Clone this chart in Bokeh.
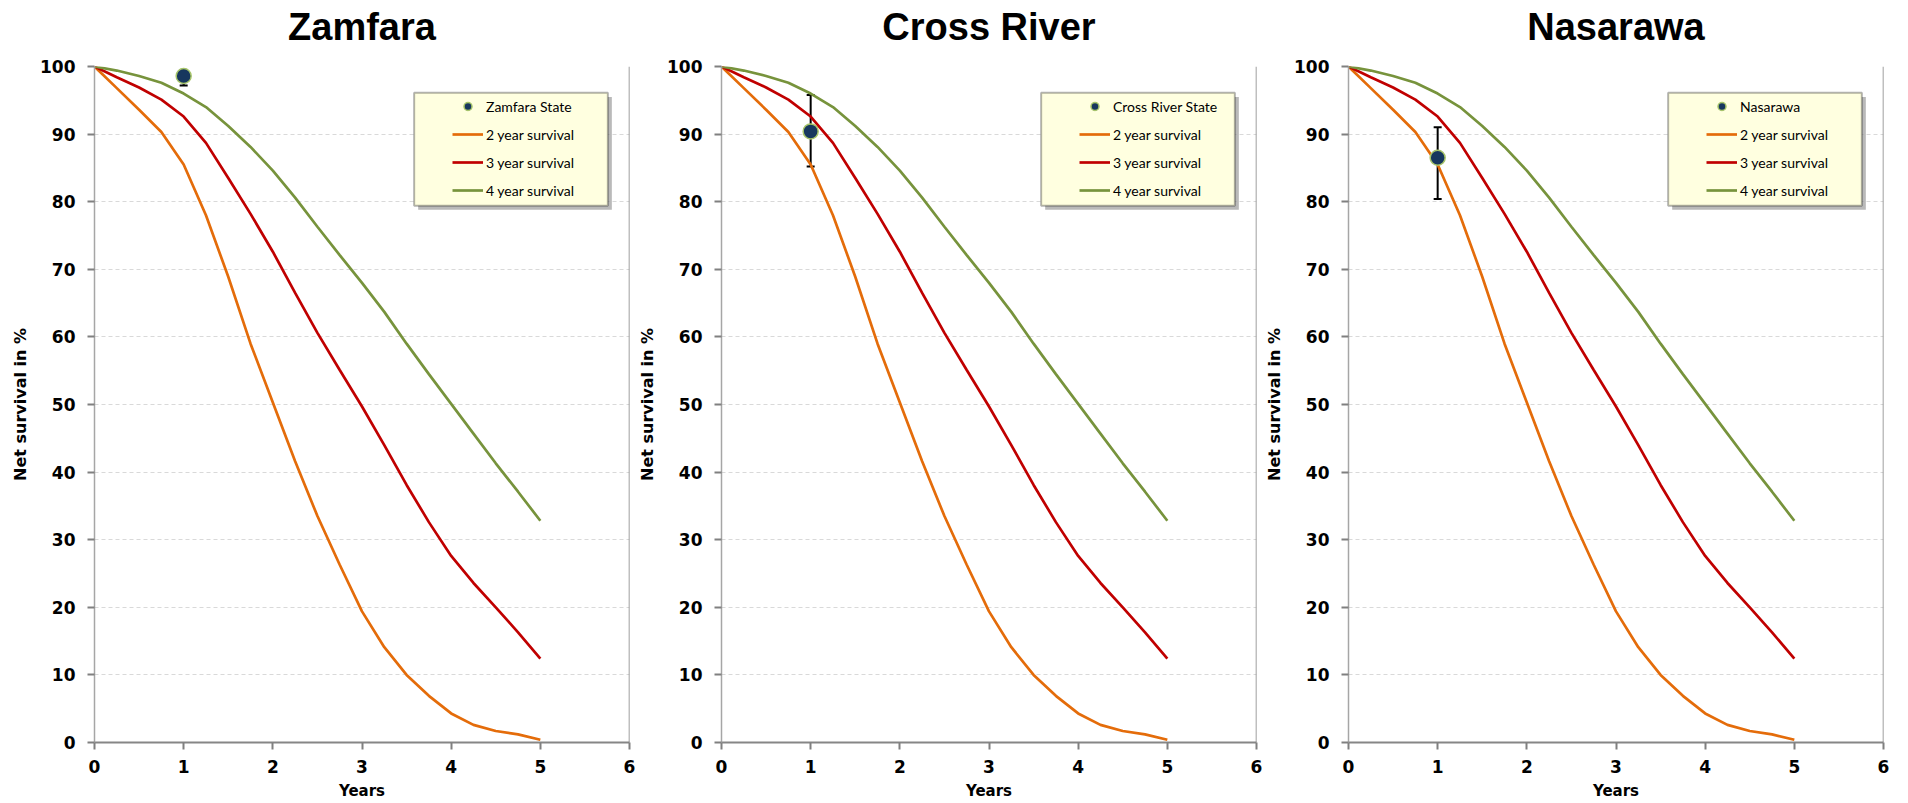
from bokeh.plotting import figure
from bokeh.layouts import row, Spacer
from bokeh.models import (Legend, LegendItem, Whisker, TeeHead, ColumnDataSource,
                          BoxAnnotation, Span, FixedTicker, Range1d, Title)
from bokeh.embed import file_html
from bokeh.resources import INLINE

# ---------------- data ----------------
years = [0, 0.25, 0.5, 0.75, 1.0, 1.25, 1.5, 1.75, 2.0, 2.25, 2.5,
         2.75, 3.0, 3.25, 3.5, 3.75, 4.0, 4.25, 4.5, 4.75, 5.0]
surv_2yr = [100, 96.8, 93.6, 90.3, 85.5, 78.0, 68.9, 59.0, 50.3, 41.6, 33.5,
            26.3, 19.4, 14.1, 10.0, 6.9, 4.3, 2.6, 1.7, 1.2, 0.4]
surv_3yr = [100, 98.4, 96.9, 95.1, 92.6, 88.7, 83.5, 78.2, 72.6, 66.5, 60.6,
            55.1, 49.7, 44.0, 38.1, 32.6, 27.6, 23.6, 20.0, 16.3, 12.4]
surv_4yr = [100, 99.4, 98.6, 97.6, 96.0, 94.0, 91.2, 88.1, 84.6, 80.6, 76.3,
            72.1, 68.0, 63.7, 59.0, 54.5, 50.1, 45.7, 41.3, 37.1, 32.8]

states = ["Zamfara", "Cross River", "Nasarawa"]
point_labels = ["Zamfara State", "Cross River State", "Nasarawa"]
obs_year = [1, 1, 1]
obs_value = [98.6, 90.4, 86.5]
obs_lower = [97.2, 85.2, 80.4]
obs_upper = [99.5, 95.8, 91.0]

curve_labels = ["2 year survival", "3 year survival", "4 year survival"]
x_ticks = [0, 1, 2, 3, 4, 5, 6]
y_ticks = [0, 10, 20, 30, 40, 50, 60, 70, 80, 90, 100]

# ---------------- style ----------------
C_ORANGE = "#E46C0A"
C_RED = "#C00000"
C_GREEN = "#77933C"
C_NAVY = "#17375E"
C_RING = "#A6C46A"
LEG_BOX = dict(left=3.585, right=5.757, bottom=79.4, top=96.1)

figs = []
for i, st in enumerate(states):
    p = figure(width=627, height=803, x_range=Range1d(0, 6), y_range=Range1d(0, 100),
               output_backend="svg", toolbar_location=None, title=st,
               min_border_left=83, min_border_right=6, min_border_top=66,
               min_border_bottom=61)
    p.outline_line_color = None
    p.background_fill_color = "white"
    p.border_fill_color = "white"

    p.title.text_font = "Liberation Sans"
    p.title.text_font_size = "38px"
    p.title.text_font_style = "bold"
    p.title.text_color = "black"
    p.title.align = "center"
    p.title.standoff = 0
    # empty spacer panel between the title and the plot frame
    p.add_layout(Title(text=" ", text_font_size="1px", standoff=16), "above")

    p.xaxis.ticker = FixedTicker(ticks=x_ticks)
    p.yaxis.ticker = FixedTicker(ticks=y_ticks)
    p.xaxis.axis_label = "Years"
    p.yaxis.axis_label = "Net survival in %"
    for ax in (p.xaxis[0], p.yaxis[0]):
        ax.major_label_text_font = "DejaVu Sans"
        ax.major_label_text_font_style = "bold"
        ax.major_label_text_font_size = "17px"
        ax.major_label_text_color = "black"
        ax.axis_label_text_font = "DejaVu Sans"
        ax.axis_label_text_font_style = "bold"
        ax.axis_label_text_color = "black"
        ax.major_tick_in = 0
        ax.major_tick_out = 7
        ax.major_tick_line_color = "#808080"
        ax.major_tick_line_width = 2
        ax.minor_tick_line_color = None
    p.yaxis.axis_label_text_font_size = "16px"
    p.xaxis.axis_label_text_font_size = "15px"
    p.yaxis.axis_line_color = "#A6A6A6"
    p.yaxis.axis_line_width = 1.5
    p.xaxis.axis_line_color = "#868686"
    p.xaxis.axis_line_width = 2
    p.yaxis.major_label_standoff = 12
    p.yaxis.axis_label_standoff = 7
    p.xaxis.major_label_standoff = 10
    p.xaxis.axis_label_standoff = 6

    p.xgrid.grid_line_color = None
    p.ygrid.grid_line_color = "#D9D9D9"
    p.ygrid.grid_line_dash = "4 3"

    p.add_layout(Span(location=6, dimension="height", line_color="#808080", line_width=1.5))

    l2 = p.line(years, surv_2yr, line_color=C_ORANGE, line_width=2.7)
    l3 = p.line(years, surv_3yr, line_color=C_RED, line_width=2.7)
    l4 = p.line(years, surv_4yr, line_color=C_GREEN, line_width=2.7)

    src = ColumnDataSource(dict(x=[obs_year[i]], y=[obs_value[i]],
                                lo=[obs_lower[i]], hi=[obs_upper[i]]))
    wk = Whisker(base="x", lower="lo", upper="hi", source=src, dimension="height",
                 line_color="black", line_width=2,
                 lower_head=TeeHead(size=8, line_color="black", line_width=2),
                 upper_head=TeeHead(size=8, line_color="black", line_width=2))
    p.add_layout(wk)
    pt = p.scatter("x", "y", source=src, size=15, fill_color=C_NAVY,
                   line_color=C_RING, line_width=1.5)

    # legend box with shadow
    p.add_layout(BoxAnnotation(left=LEG_BOX["left"] + 0.045, right=LEG_BOX["right"] + 0.045,
                               bottom=LEG_BOX["bottom"] - 0.6, top=LEG_BOX["top"] - 0.6,
                               fill_color="#7F7F7F", fill_alpha=0.55, line_color=None))
    p.add_layout(BoxAnnotation(left=LEG_BOX["left"], right=LEG_BOX["right"],
                               bottom=LEG_BOX["bottom"], top=LEG_BOX["top"],
                               fill_color="#FFFFE0", fill_alpha=1.0,
                               line_color="black", line_width=2))
    legend = Legend(items=[LegendItem(label=point_labels[i], renderers=[pt]),
                           LegendItem(label=curve_labels[0], renderers=[l2]),
                           LegendItem(label=curve_labels[1], renderers=[l3]),
                           LegendItem(label=curve_labels[2], renderers=[l4])],
                    location=(358, 542), orientation="vertical", padding=0, spacing=8,
                    glyph_width=31, glyph_height=20, label_height=20, label_standoff=3,
                    border_line_color=None, background_fill_alpha=0,
                    label_text_font="Lato", label_text_font_size="14px",
                    label_text_color="black")
    p.add_layout(legend)
    figs.append(p)

layout = row(Spacer(width=8), *figs)
open("out.html", "w").write(file_html(layout, INLINE))
